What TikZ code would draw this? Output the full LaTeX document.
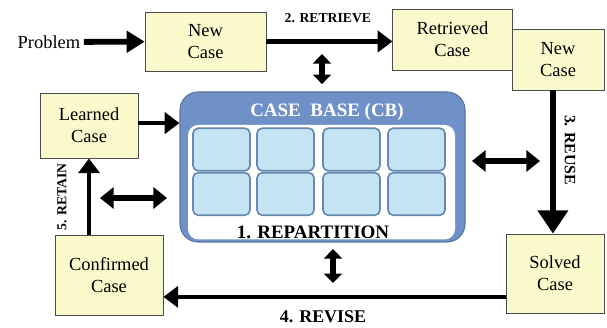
\documentclass[tikz,border=0pt]{standalone}
\usepackage{fontspec}
\setmainfont{Liberation Serif}
\usetikzlibrary{arrows.meta}
\definecolor{caseyellow}{RGB}{250,249,204}
\definecolor{cbblue}{RGB}{111,145,199}
\definecolor{cellblue}{RGB}{196,228,243}
\definecolor{celledge}{RGB}{104,138,178}
\begin{document}
\begin{tikzpicture}[
  casebox/.style={draw=black!70, fill=caseyellow, line width=0.8pt, align=center, inner sep=0pt, font=\fontsize{17.5}{21}\selectfont},
  cell/.style={draw=celledge, fill=cellblue, line width=1.6pt, rounded corners=5pt, minimum width=1.9cm, minimum height=1.42cm, inner sep=0pt},
  flow/.style={line width=4.5pt, -{Triangle[length=14pt,width=20pt]}},
  both/.style={line width=5pt, {Triangle[length=13pt,width=20pt]}-{Triangle[length=13pt,width=20pt]}},
  bothv/.style={line width=5pt, {Triangle[length=9pt,width=17pt]}-{Triangle[length=9pt,width=17pt]}},
  steplabel/.style={font=\bfseries\fontsize{13}{15}\selectfont, inner sep=1pt}
]
\useasboundingbox (0,0) rectangle (20.233,10.933);

\node[font=\fontsize{17.5}{20}\selectfont] (problem) at (1.633,9.533) {Problem};
\node[casebox, minimum width=4.03cm, minimum height=1.97cm] (newcase) at (6.85,9.55) {New\\Case};
\node[casebox, minimum width=3.97cm, minimum height=2.03cm] (retrieved) at (15.08,9.617) {Retrieved\\Case};
\node[casebox, minimum width=3.07cm, minimum height=2.03cm] (newcaseb) at (18.6,8.95) {New\\Case};
\node[casebox, minimum width=3.27cm, minimum height=2.17cm] (learned) at (2.967,6.75) {Learned\\Case};
\node[casebox, minimum width=3.6cm, minimum height=2.67cm] (confirmed) at (3.633,1.767) {Confirmed\\Case};
\node[casebox, minimum width=3.27cm, minimum height=2.63cm] (solved) at (18.5,1.817) {Solved\\Case};

\node[draw=cbblue!80!black, fill=cbblue, line width=1pt, rounded corners=0.6cm, minimum width=9.5cm, minimum height=5cm] (cb) at (10.75,5.367) {};
\node[fill=white, rounded corners=0.35cm, minimum width=8.9cm, minimum height=3.82cm] (cbinner) at (10.717,4.86) {};
\node[text=white, font=\bfseries\fontsize{18}{20}\selectfont] (cbtitle) at (10.9,7.2) {CASE\enspace BASE (CB)};
\foreach \x [count=\i] in {7.383, 9.517, 11.717, 13.883}
  \foreach \y [count=\j] in {5.95, 4.467}
    \node[cell] (cell\i\j) at (\x, \y) {};
\node[font=\bfseries\fontsize{18}{20}\selectfont] (repartition) at (10.433,3.2) {1. REPARTITION};

\draw[line width=5.5pt, -{Triangle[length=17pt,width=20pt]}] (problem) -- (newcase);
\draw[flow] (newcase.east) -- (newcase.east -| retrieved.west);
\node[steplabel] (retrievelbl) at (10.93,10.33) {2. RETRIEVE};
\draw[flow, -{Triangle[length=22pt,width=28pt]}, line width=5pt] (newcaseb.south -| 18.43,0) -- (solved.north -| 18.43,0);
\node[steplabel, rotate=-90, font=\bfseries\fontsize{15}{17}\selectfont] (reuselbl) at (19.0,5.933) {3. REUSE};
\draw[flow] ([yshift=-0.78cm]solved.west) -- ([yshift=-0.78cm]solved.west -| confirmed.east);
\node[steplabel, font=\bfseries\fontsize{17}{19}\selectfont] (reviselbl) at (10.767,0.36) {4. REVISE};
\draw[flow] (confirmed.north -| learned.south) -- (learned.south);
\node[steplabel, rotate=90] (retainlbl) at (2.067,4.367) {5. RETAIN};
\draw[flow] (learned.east |- 0,6.83) -- (cb.west |- 0,6.83);

\coordinate (topa) at (10.733,9.13);
\coordinate (topb) at (10.733,8.13);
\coordinate (bota) at (11.1,2.63);
\coordinate (botb) at (11.1,1.5);
\coordinate (lefta) at (3.333,4.333);
\coordinate (leftb) at (5.567,4.333);
\coordinate (righta) at (15.733,5.567);
\coordinate (rightb) at (18.0,5.567);
\draw[bothv] (topa) -- (topb);
\draw[bothv] (bota) -- (botb);
\draw[both] (lefta) -- (leftb);
\draw[both] (righta) -- (rightb);
\end{tikzpicture}
\end{document}
